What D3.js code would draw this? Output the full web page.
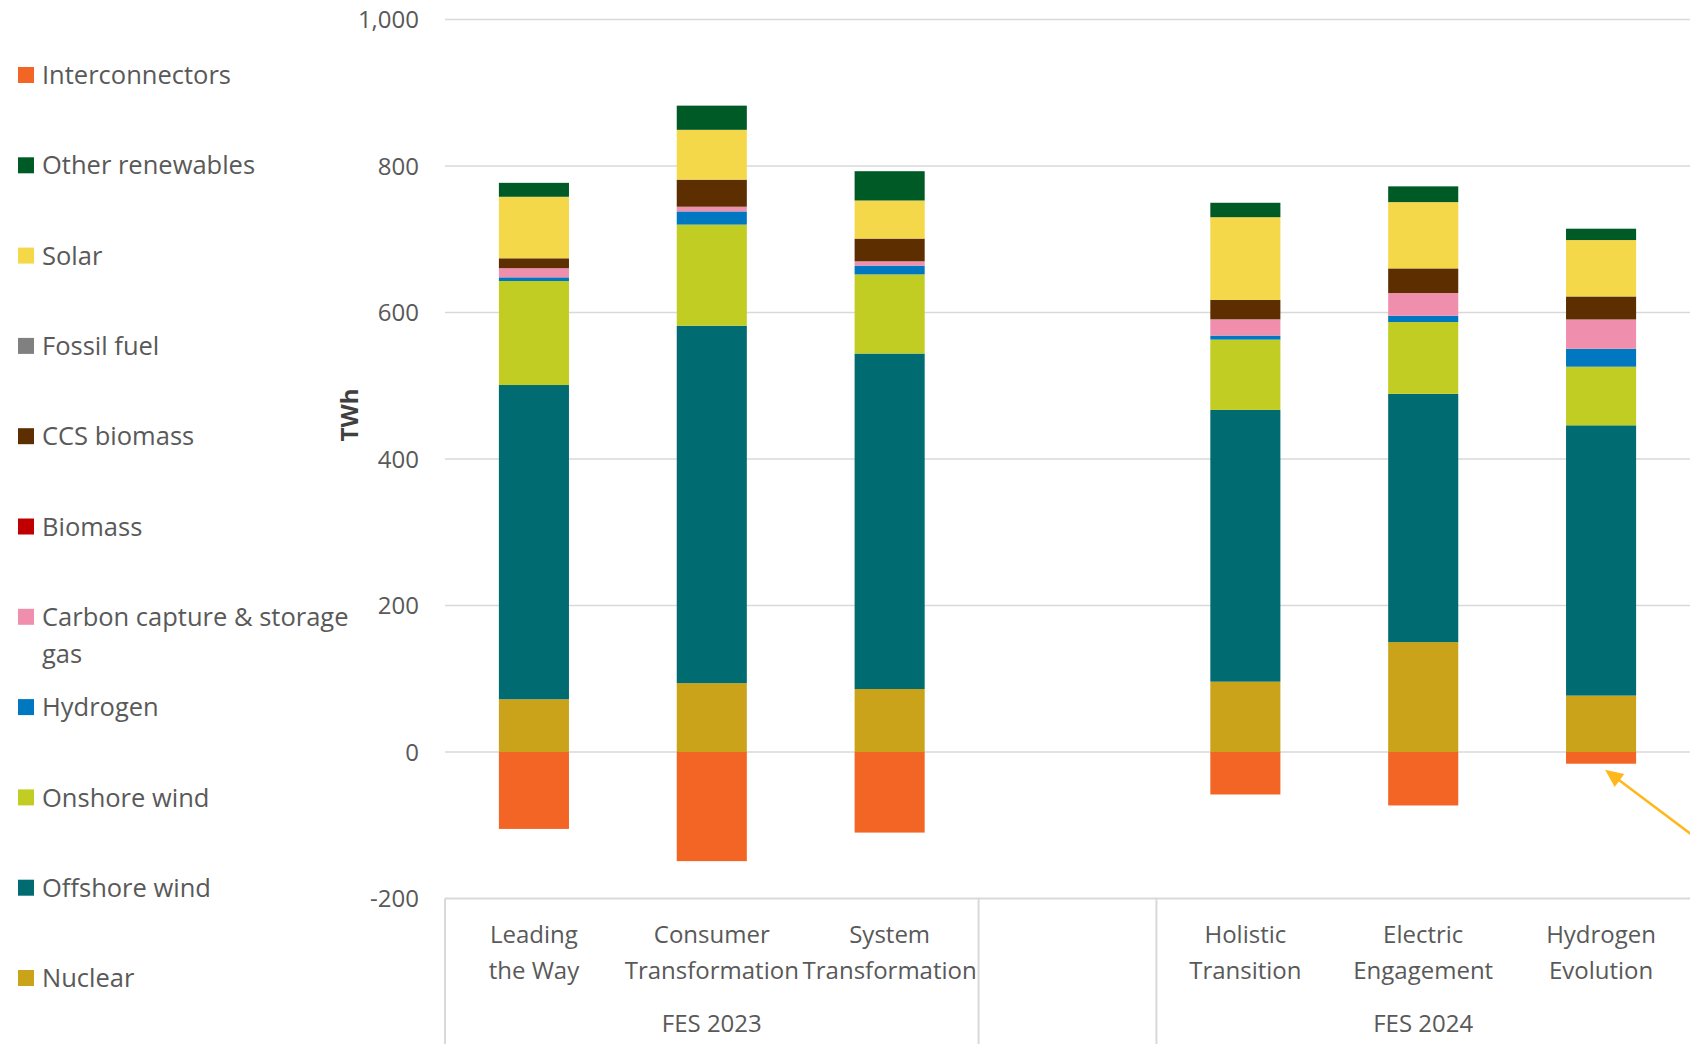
<!DOCTYPE html>
<html>
<head>
<meta charset="utf-8">
<script src="https://cdn.jsdelivr.net/npm/d3@7"></script>
<style>
  html, body { margin: 0; padding: 0; background: #fff; }
  #chart { width: 1690px; height: 1044px; overflow: hidden; }
  text { font-family: "Open Sans", "Noto Sans", sans-serif; }
</style>
</head>
<body>
<div id="chart"></div>
<script>
// categories (the blank one is the gap between the two FES editions)
const categories = ["Leading the Way", "Consumer Transformation", "System Transformation", "", "Holistic Transition", "Electric Engagement", "Hydrogen Evolution"];
const categoryLines = [["Leading", "the Way"], ["Consumer", "Transformation"], ["System", "Transformation"], [], ["Holistic", "Transition"], ["Electric", "Engagement"], ["Hydrogen", "Evolution"]];
const groupNames = ["FES 2023", "", "FES 2024"];
const groupSpans = [3, 1, 3];

// TWh per series, one value per category
const nuclear = [72, 94, 86, null, 96, 150, 77];
const offshoreWind = [429, 488, 458, null, 371, 339, 369];
const onshoreWind = [142, 138, 108, null, 96, 98, 80];
const hydrogen = [5, 18, 12, null, 5.5, 8.6, 24.5];
const ccsGas = [12.5, 6.4, 5.9, null, 22.2, 31, 40];
const biomass = [0, 0, 0, null, 0, 0, 0];
const ccsBiomass = [13.5, 37, 31, null, 26.4, 33.6, 31.4];
const fossilFuel = [0, 0, 0, null, 0, 0, 0];
const solar = [84, 68, 52, null, 113, 90.5, 77];
const otherRenewables = [19, 33, 40, null, 19.7, 21.5, 15.5];
const interconnectors = [-105, -149, -110, null, -58, -73, -16];

const yTicks = [-200, 0, 200, 400, 600, 800, 1000];

// stacking order, bottom up
const seriesNames = ["Nuclear", "Offshore wind", "Onshore wind", "Hydrogen", "Carbon capture & storage gas", "Biomass", "CCS biomass", "Fossil fuel", "Solar", "Other renewables", "Interconnectors"];
const seriesValues = [nuclear, offshoreWind, onshoreWind, hydrogen, ccsGas, biomass, ccsBiomass, fossilFuel, solar, otherRenewables, interconnectors];
const seriesColors = ["#CBA31A", "#006C72", "#C2CD23", "#0078C1", "#F08EAE", "#C00000", "#5C2E00", "#808080", "#F5D74A", "#005A26", "#F36525"];

const W = 1690, H = 1044;
const plotLeft = 445, plotRight = 1690;
const textColor = "#595959";
const gridColor = "#D9D9D9";
const axisFont = "24px";
const legendFont = "25.5px";

const rows = categories.map((c, i) => {
  const r = { category: c };
  seriesNames.forEach((s, j) => { r[s] = seriesValues[j][i] || 0; });
  return r;
});

const stacked = d3.stack()
  .keys(seriesNames)
  .offset(d3.stackOffsetDiverging)(rows);

const svg = d3.select("#chart").append("svg")
  .attr("width", W)
  .attr("height", H);

const xSc = d3.scaleBand()
  .domain(categories.map((c, i) => i))
  .range([plotLeft, plotRight])
  .paddingInner(0.606)
  .paddingOuter(0.303);

const ySc = d3.scaleLinear()
  .domain([-200, 1000])
  .range([898.5, 19.5]);

// gridlines
svg.append("g")
  .selectAll("line")
  .data(yTicks.filter(t => t > -200))
  .join("line")
    .attr("x1", plotLeft)
    .attr("x2", plotRight)
    .attr("y1", d => ySc(d))
    .attr("y2", d => ySc(d))
    .attr("stroke", gridColor)
    .attr("stroke-width", 1.5);

// y tick labels
svg.append("g")
  .selectAll("text")
  .data(yTicks)
  .join("text")
    .attr("x", 419)
    .attr("y", d => ySc(d))
    .attr("dy", "0.36em")
    .attr("text-anchor", "end")
    .attr("fill", textColor)
    .style("font-size", axisFont)
    .text(d => d3.format(",")(d).replace("\u2212", "-"));

svg.append("text")
  .attr("transform", `translate(${358},${415}) rotate(-90)`)
  .attr("text-anchor", "middle")
  .attr("fill", "#404040")
  .style("font-size", axisFont)
  .style("font-weight", "bold")
  .text("TWh");

// bars
svg.append("g")
  .selectAll("g")
  .data(stacked)
  .join("g")
    .attr("fill", (d, i) => seriesColors[i])
  .selectAll("rect")
  .data(d => d.map((v, i) => ({ v, i })))
  .join("rect")
    .attr("x", d => xSc(d.i))
    .attr("width", xSc.bandwidth())
    .attr("y", d => ySc(Math.max(d.v[0], d.v[1])))
    .attr("height", d => Math.abs(ySc(d.v[0]) - ySc(d.v[1])));

// category axis (multi-level)
const axisY = ySc(-200);
svg.append("line")
  .attr("x1", plotLeft).attr("x2", plotRight)
  .attr("y1", axisY).attr("y2", axisY)
  .attr("stroke", gridColor)
  .attr("stroke-width", 2);

let start = 0;
const groupBounds = groupSpans.map(s => { const b = [start, start + s]; start += s; return b; });
const step = xSc.step();

svg.append("g")
  .selectAll("line")
  .data(groupBounds)
  .join("line")
    .attr("x1", d => plotLeft + d[0] * step)
    .attr("x2", d => plotLeft + d[0] * step)
    .attr("y1", axisY)
    .attr("y2", H)
    .attr("stroke", gridColor)
    .attr("stroke-width", 2);

svg.append("g")
  .selectAll("text")
  .data(categoryLines)
  .join("text")
    .attr("text-anchor", "middle")
    .attr("fill", textColor)
    .style("font-size", axisFont)
    .each(function(lines, i) {
      d3.select(this).selectAll("tspan")
        .data(lines)
        .join("tspan")
          .attr("x", xSc(i) + xSc.bandwidth() / 2)
          .attr("y", (d, k) => 943 + k * 35.5)
          .text(d => d);
    });

svg.append("g")
  .selectAll("text")
  .data(groupNames)
  .join("text")
    .attr("x", (d, i) => plotLeft + (groupBounds[i][0] + groupBounds[i][1]) / 2 * step)
    .attr("y", 1032)
    .attr("text-anchor", "middle")
    .attr("fill", textColor)
    .style("font-size", axisFont)
    .text(d => d);

// legend, top to bottom is reverse stack order with interconnectors first
const legendOrder = [10, 9, 8, 7, 6, 5, 4, 3, 2, 1, 0];
const legend = svg.append("g");
const legendItems = legend.selectAll("g")
  .data(legendOrder)
  .join("g")
    .attr("transform", (d, k) => `translate(18,${75 + k * 90.3})`);

legendItems.append("rect")
  .attr("x", 0)
  .attr("y", -8)
  .attr("width", 16)
  .attr("height", 16)
  .attr("fill", d => seriesColors[d]);

legendItems.append("text")
  .attr("x", 24)
  .attr("y", 0)
  .attr("fill", textColor)
  .style("font-size", legendFont)
  .each(function(d) {
    const t = d3.select(this);
    const words = seriesNames[d].split(" ");
    let line = [];
    let tspan = t.append("tspan").attr("x", 24).attr("dy", "0.36em");
    words.forEach(w => {
      line.push(w);
      tspan.text(line.join(" "));
      if (tspan.node().getComputedTextLength() > 310 && line.length > 1) {
        line.pop();
        tspan.text(line.join(" "));
        line = [w];
        tspan = t.append("tspan").attr("x", 24).attr("dy", "1.45em").text(w);
      }
    });
  });

// annotation arrow pointing at the small Hydrogen Evolution interconnector bar
const heIdx = categories.indexOf("Hydrogen Evolution");
const tipX = xSc(heIdx) + xSc.bandwidth() / 2 + 4;
const tipY = ySc(interconnectors[heIdx]) + 6;
const tailX = tipX + 88, tailY = tipY + 66;
const ang = Math.atan2(tipY - tailY, tipX - tailX);
const headLen = 18, headW = 8;
svg.append("line")
  .attr("x1", tailX).attr("y1", tailY)
  .attr("x2", tipX - Math.cos(ang) * headLen * 0.8)
  .attr("y2", tipY - Math.sin(ang) * headLen * 0.8)
  .attr("stroke", "#FFB81C")
  .attr("stroke-width", 2.5);
const bx = tipX - Math.cos(ang) * headLen, by = tipY - Math.sin(ang) * headLen;
svg.append("path")
  .attr("d", `M${tipX},${tipY}L${bx - Math.sin(ang) * headW},${by + Math.cos(ang) * headW}L${bx + Math.sin(ang) * headW},${by - Math.cos(ang) * headW}Z`)
  .attr("fill", "#FFB81C");
</script>
</body>
</html>
